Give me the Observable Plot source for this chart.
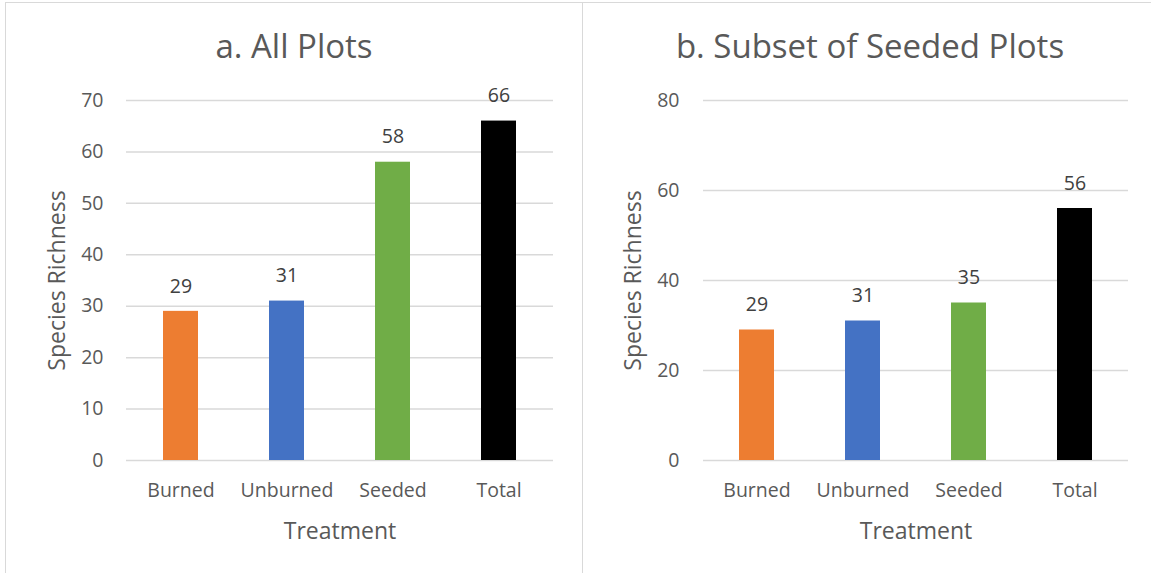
<!DOCTYPE html>
<html>
<head>
<meta charset="utf-8">
<script src="https://cdn.jsdelivr.net/npm/d3@7"></script>
<script src="https://cdn.jsdelivr.net/npm/@observablehq/plot@0.6"></script>
<style>
  body { margin: 0; background: #fff; font-family: "Open Sans", sans-serif; }
  #page { position: relative; width: 1151px; height: 573px; overflow: hidden; background: #fff; }
  .panel { position: absolute; top: 2px; height: 620px; box-sizing: border-box; border-top: 1.5px solid #d9d9d9; }
  #panelA { left: 5px; width: 578px; border-left: 1.5px solid #d9d9d9; border-right: 1.5px solid #d9d9d9; }
  #panelB { left: 583px; width: 600px; }
  .title { position: absolute; top: 29px; text-align: center; color: #595959; font-size: 33px; line-height: 1; white-space: nowrap; }
  #titleA { left: 5px; width: 578px; }
  #titleB { left: 583px; width: 574px; }
  .chart { position: absolute; top: 0; }
  #chartA { left: 0; }
  #chartB { left: 583px; }
</style>
</head>
<body>
<div id="page">
  <div class="panel" id="panelA"></div>
  <div class="panel" id="panelB"></div>
  <div class="title" id="titleA">a. All Plots</div>
  <div class="title" id="titleB">b. Subset of Seeded Plots</div>
  <div class="chart" id="chartA"></div>
  <div class="chart" id="chartB"></div>
</div>
<script>
// Species richness by treatment
const treatments = ["Burned", "Unburned", "Seeded", "Total"];
const allPlots = [29, 31, 58, 66];
const seededSubset = [29, 31, 35, 56];
const barColors = ["#ED7D31", "#4472C4", "#70AD47", "#000000"];
const ticksA = [0, 10, 20, 30, 40, 50, 60, 70];
const ticksB = [0, 20, 40, 60, 80];
const xLabel = "Treatment";
const yLabel = "Species Richness";

const textColor = "#595959";
const gridColor = "#d9d9d9";

function richnessChart({values, ticks, width, marginLeft, marginRight, yLabelDx, tickPad}) {
  const rows = treatments.map((t, i) => ({treatment: t, value: values[i]}));
  return Plot.plot({
    width,
    height: 573,
    marginLeft,
    marginRight,
    marginTop: 100,
    marginBottom: 113,
    style: {fontFamily: '"Open Sans", sans-serif', background: "transparent", overflow: "visible", color: textColor},
    x: {domain: treatments, paddingInner: 0.67, paddingOuter: 0.335, axis: null},
    y: {domain: [0, d3.max(ticks)], axis: null},
    color: {domain: treatments, range: barColors},
    marks: [
      Plot.gridY(ticks, {stroke: gridColor, strokeOpacity: 1, strokeWidth: 1.5}),
      Plot.barY(rows, {x: "treatment", y: "value", fill: "treatment"}),
      Plot.axisY(ticks, {tickSize: 0, tickPadding: tickPad, fontSize: 19.5, fill: textColor, label: null}),
      Plot.axisX({tickSize: 0, tickPadding: 23, fontSize: 19.5, fill: textColor, label: null}),
      Plot.text(rows, {x: "treatment", y: "value", text: d => String(d.value), dy: -25, fontSize: 19.5, fill: "#404040"}),
      Plot.text([xLabel], {frameAnchor: "bottom", dy: 71, lineAnchor: "middle", textAnchor: "middle", fontSize: 23, fill: textColor}),
      Plot.text([yLabel], {frameAnchor: "left", dx: yLabelDx, rotate: -90, textAnchor: "middle", lineAnchor: "middle", fontSize: 23, fill: textColor})
    ]
  });
}

document.getElementById("chartA").appendChild(richnessChart({
  values: allPlots, ticks: ticksA, width: 583, marginLeft: 126, marginRight: 30, yLabelDx: -69, tickPad: 23
}));
document.getElementById("chartB").appendChild(richnessChart({
  values: seededSubset, ticks: ticksB, width: 568, marginLeft: 120, marginRight: 23, yLabelDx: -70, tickPad: 24
}));
</script>
</body>
</html>
